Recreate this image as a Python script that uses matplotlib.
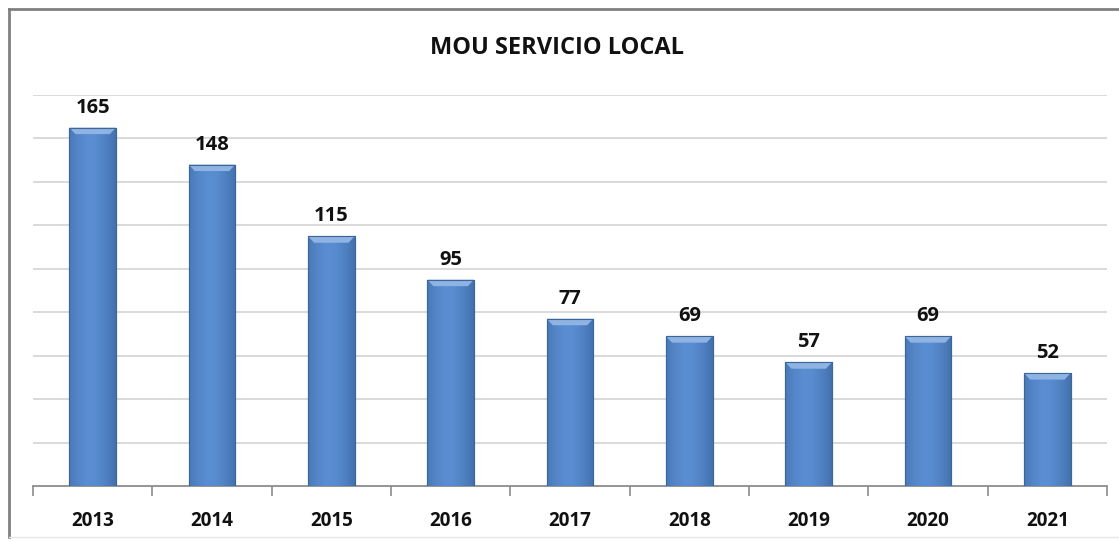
import numpy as np
import matplotlib.pyplot as plt
from matplotlib.patches import Rectangle, Polygon
from matplotlib.lines import Line2D
from matplotlib.colors import LinearSegmentedColormap

years = ["2013", "2014", "2015", "2016", "2017", "2018", "2019", "2020", "2021"]
mou = [165, 148, 115, 95, 77, 69, 57, 69, 52]
title = "MOU SERVICIO LOCAL"

plt.rcParams["font.family"] = ["Open Sans", "DejaVu Sans"]

fig = plt.figure(figsize=(11.19, 5.41), dpi=100)
ax = fig.add_axes([33 / 1119, 1 - 486 / 541, (1107 - 33) / 1119, (486 - 95) / 541])

x = np.arange(len(years))
bars = ax.bar(x, mou, width=0.39, color="#4F81BD", edgecolor="#3B6696", linewidth=0.8, zorder=3)

# horizontal shading so the bars look rounded
grad = np.linspace(0, 1, 64)
shade = 1 - 0.55 * (2 * np.abs(grad - 0.45)) ** 1.6
cmap = LinearSegmentedColormap.from_list("bar", ["#35619A", "#5A8ED2"])
for b in bars:
    x0, w, h = b.get_x(), b.get_width(), b.get_height()
    im = ax.imshow(shade[None, :], cmap=cmap, vmin=0, vmax=1, aspect="auto",
                   extent=[x0, x0 + w, 0, h], zorder=3.5)
    im.set_clip_path(b)
    # lighter bevel at the top
    bev = 3.0
    ax.add_patch(Polygon([[x0, h], [x0 + w, h], [x0 + w * 0.87, h - bev], [x0 + w * 0.13, h - bev]],
                         closed=True, facecolor="#8FB4E3", edgecolor="none", zorder=4))
    ax.add_patch(Rectangle((x0, 0), w, h, facecolor="none", edgecolor="#3B6696", linewidth=0.8, zorder=4.5))

for xi, v in zip(x, mou):
    ax.annotate(str(v), (xi, v), xytext=(0, 7), textcoords="offset points",
                ha="center", va="bottom", fontsize=14.5, fontweight="bold", color="#111111")

ax.set_xlim(-0.5, len(years) - 0.5)
ax.set_ylim(0, 180)
ax.set_yticks(np.arange(20, 181, 20))
ax.yaxis.grid(True, color="#D9D9D9", linewidth=1.4, zorder=0)
ax.tick_params(axis="y", length=0, labelleft=False)
ax.set_xticks(x)
ax.set_xticklabels(years, fontsize=13.5, fontweight="bold", color="#111111")
ax.set_xticks(np.arange(-0.5, len(years)), minor=True)
ax.tick_params(axis="x", which="major", length=0, pad=18)
ax.tick_params(axis="x", which="minor", length=7, width=1.2, color="#8C8C8C")
for s in ["top", "right", "left"]:
    ax.spines[s].set_visible(False)
ax.spines["bottom"].set_color("#8C8C8C")
ax.spines["bottom"].set_linewidth(1.3)
ax.set_axisbelow(True)

fig.text(557 / 1119, 1 - 48 / 541, title, ha="center", va="center",
         fontsize=17, fontweight="bold", color="#111111")

# chart frame: dark top and left edges, faint bottom edge
fx0, fy_top, fy_bot = 9 / 1119, 1 - 9 / 541, 1 - 537 / 541
fig.lines.append(Line2D([fx0, 1.0], [fy_top, fy_top], transform=fig.transFigure,
                        color="#808080", linewidth=2.0))
fig.lines.append(Line2D([fx0, fx0], [fy_bot, fy_top], transform=fig.transFigure,
                        color="#808080", linewidth=2.0))
fig.lines.append(Line2D([fx0, 1.0], [fy_bot, fy_bot], transform=fig.transFigure,
                        color="#E6E6E6", linewidth=1.0))

fig.savefig("out.png", dpi=100)
